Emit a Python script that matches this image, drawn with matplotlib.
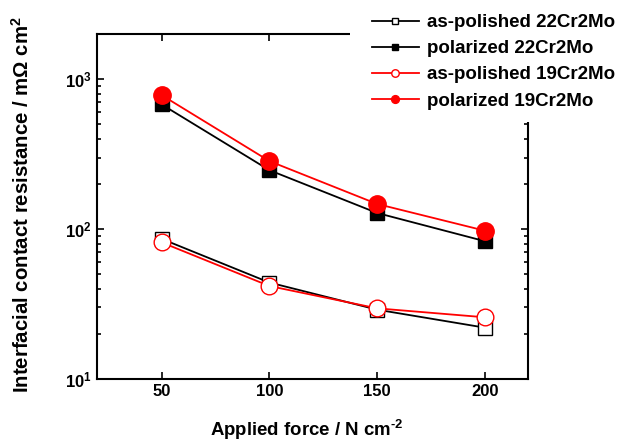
import matplotlib
matplotlib.use("Agg")
import matplotlib.pyplot as plt
from matplotlib.patches import Rectangle

plt.rcParams['font.family'] = ['Liberation Sans', 'DejaVu Sans']
plt.rcParams['font.weight'] = 'bold'
plt.rcParams['mathtext.fontset'] = 'custom'
plt.rcParams['mathtext.rm'] = 'Liberation Sans:bold'
plt.rcParams['mathtext.bf'] = 'Liberation Sans:bold'
plt.rcParams['mathtext.it'] = 'Liberation Sans:bold'
plt.rcParams['mathtext.default'] = 'bf'

force = [50, 100, 150, 200]
polished_22 = [86, 44, 29, 22]
polarized_22 = [678, 247, 128, 83]
polished_19 = [81.5, 41.7, 29.6, 25.8]
polarized_19 = [782, 284, 147, 97.5]

fig = plt.figure(figsize=(6.2, 4.42), dpi=100)
ax = fig.add_axes([97 / 620, 1 - 379 / 442, (528 - 97) / 620, (379 - 34) / 442])

ax.plot(force, polished_22, '-s', color='black', lw=1.3, ms=10,
        mfc='white', mec='black', mew=1.0, label='as-polished 22Cr2Mo')
ax.plot(force, polarized_22, '-s', color='black', lw=1.3, ms=10,
        mfc='black', mec='black', label='polarized 22Cr2Mo')
ax.plot(force, polished_19, '-o', color='#ff0000', lw=1.3, ms=12,
        mfc='white', mec='#ff0000', mew=1.0, label='as-polished 19Cr2Mo')
ax.plot(force, polarized_19, '-o', color='#ff0000', lw=1.3, ms=12.5,
        mfc='#ff0000', mec='#ff0000', label='polarized 19Cr2Mo')

ax.set_yscale('log')
ax.set_ylim(10, 2000)
ax.set_xlim(20, 220)
ax.set_xticks(force)

ax.tick_params(which='both', direction='in', top=True, right=True, width=1.2,
               labelsize=12)
ax.tick_params(which='major', length=5)
ax.tick_params(which='minor', length=3)
for spine in ax.spines.values():
    spine.set_linewidth(1.5)

ax.set_xlabel('Applied force / N cm$^{\u20102}$', fontsize=13.4, fontweight='bold')
ax.set_ylabel(r'Interfacial contact resistance / m$\Omega$ cm$^{2}$',
              fontsize=14.7, fontweight='bold')
ax.xaxis.set_label_coords(0.487, -0.113)
ax.yaxis.set_label_coords(-0.148, 0.505)

# white block behind the legend hides the top-right corner of the frame
fig.patches.append(Rectangle((350 / 620, 1 - 122 / 442), 270 / 620, 122 / 442,
                             transform=fig.transFigure, facecolor='white',
                             edgecolor='none', zorder=3))

handles, labels = ax.get_legend_handles_labels()
leg = fig.legend(handles, labels, loc='upper left',
                 bbox_to_anchor=(372 / 620, 1 - 14 / 442), frameon=False,
                 borderpad=0, borderaxespad=0, markerscale=0.45,
                 handlelength=2.5, handletextpad=0.43, labelspacing=0.48,
                 prop={'size': 13.5, 'weight': 'bold'})
leg.set_zorder(4)

fig.savefig('out.png', dpi=100)
